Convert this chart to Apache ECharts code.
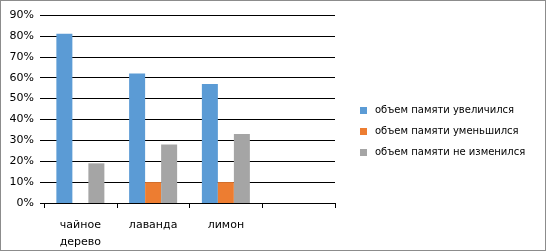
<!DOCTYPE html>
<html>
<head>
<meta charset="utf-8">
<script src="https://cdn.jsdelivr.net/npm/echarts@6/dist/echarts.min.js"></script>
<style>
  html, body { margin: 0; padding: 0; background: #fff; }
  #frame { position: absolute; left: 0; top: 0; width: 544px; height: 249px; border: 1px solid #8c8c8c; }
  #chart { position: absolute; left: 0; top: 0; width: 550px; height: 251px; }
</style>
</head>
<body>
<div id="frame"></div>
<div id="chart"></div>
<script>
// категории и значения (%)
const categories = ["чайное\nдерево", "лаванда", "лимон", ""];
const increased = [81, 62, 57, null];
const decreased = [0, 10, 10, null];
const unchanged = [19, 28, 33, null];
const seriesNames = [
  "объем памяти увеличился",
  "объем памяти уменьшился",
  "объем памяти не изменился"
];

const myChart = echarts.init(document.getElementById("chart"));
const font = "DejaVu Sans";

myChart.setOption({
  animation: false,
  color: ["#5B9BD5", "#ED7D31", "#A5A5A5"],
  grid: { left: 44, top: 15, right: 215, bottom: 48 },
  legend: {
    orient: "vertical",
    left: 355,
    top: 100,
    itemWidth: 7,
    itemHeight: 7,
    itemGap: 10,
    icon: "rect",
    textStyle: { fontFamily: font, fontSize: 10, lineHeight: 11, color: "#000", padding: [0, 0, 0, 3] },
    data: seriesNames
  },
  xAxis: {
    type: "category",
    data: categories,
    axisLine: { lineStyle: { color: "#000", width: 1 } },
    axisTick: { show: true, length: 5, lineStyle: { color: "#000" } },
    axisLabel: {
      fontFamily: font, fontSize: 11, color: "#000",
      margin: 14, lineHeight: 17, interval: 0
    }
  },
  yAxis: {
    type: "value",
    min: 0,
    max: 90,
    interval: 10,
    axisLine: { show: false },
    axisTick: { show: true, length: 4, lineStyle: { color: "#000" } },
    axisLabel: {
      fontFamily: font, fontSize: 11, color: "#000", margin: 10,
      formatter: "{value}%"
    },
    splitLine: { lineStyle: { color: "#000", width: 1 } }
  },
  series: [
    { name: seriesNames[0], type: "bar", data: increased, barGap: "0%", barCategoryGap: "34%" },
    { name: seriesNames[1], type: "bar", data: decreased, barGap: "0%", barCategoryGap: "34%" },
    { name: seriesNames[2], type: "bar", data: unchanged, barGap: "0%", barCategoryGap: "34%" }
  ]
});
</script>
</body>
</html>
